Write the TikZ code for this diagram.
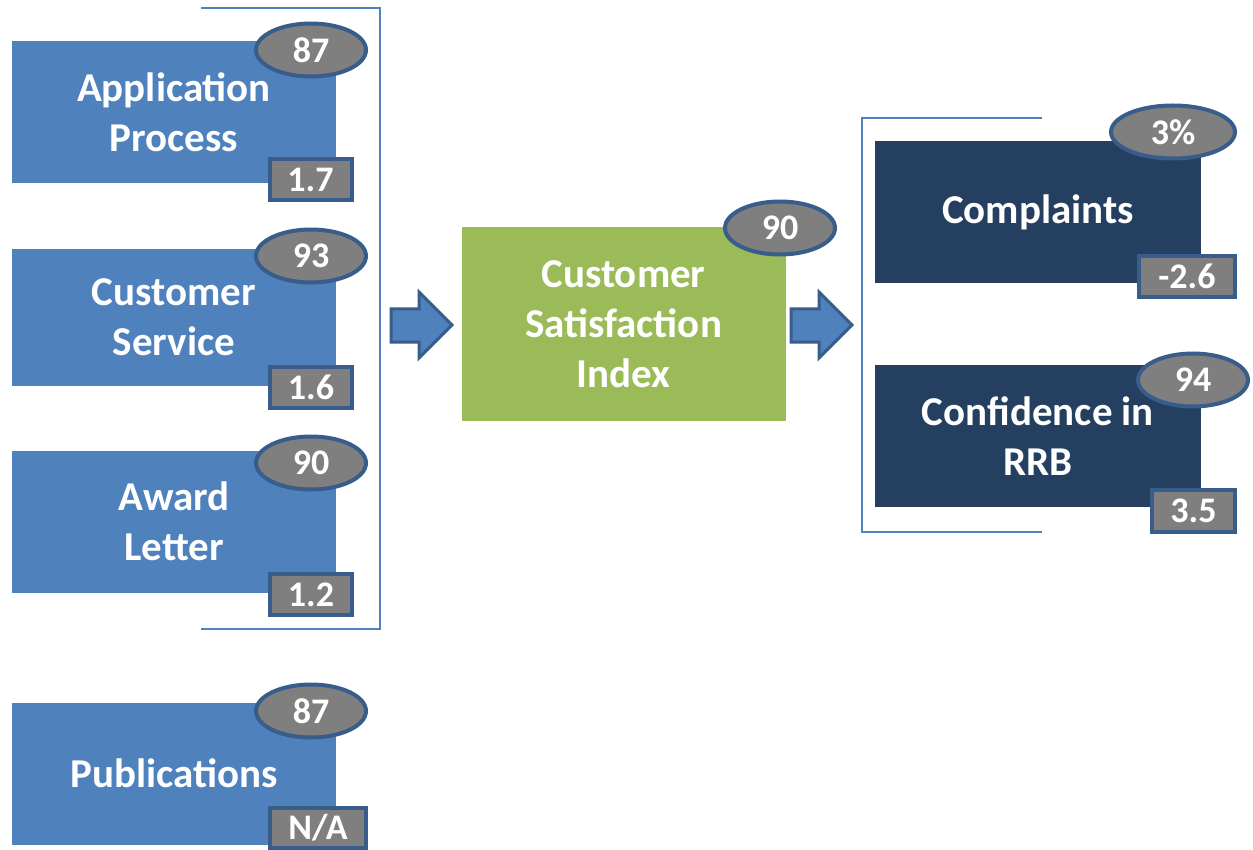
\documentclass[tikz,border=0pt]{standalone}
\usepackage{fontspec}
\setmainfont{Carlito}
\usetikzlibrary{shapes.geometric}
\definecolor{boxblue}{HTML}{4F81BD}
\definecolor{boxnavy}{HTML}{243F60}
\definecolor{boxgreen}{HTML}{9BBB59}
\definecolor{rimblue}{HTML}{385D8A}
\definecolor{chipgray}{HTML}{7F7F7F}
\tikzset{
  area/.style={rectangle,fill=boxblue,text=white,align=center,inner sep=0pt,
    minimum width=162pt,minimum height=71pt,font=\bfseries\fontsize{20.5}{25}\selectfont},
  score/.style={ellipse,fill=chipgray,draw=rimblue,line width=2pt,inner sep=0pt,
    minimum width=55pt,minimum height=26.5pt,text=white,font=\bfseries\fontsize{18}{20}\selectfont},
  delta/.style={rectangle,fill=chipgray,draw=rimblue,line width=2pt,inner sep=0pt,
    minimum width=41pt,minimum height=20.5pt,text=white,font=\bfseries\fontsize{18}{20}\selectfont},
  flow/.style={fill=boxblue,draw=rimblue,line width=1.5pt,line join=miter},
  brace/.style={draw=boxblue,line width=0.9pt}
}
\begin{document}
\begin{tikzpicture}[x=0.5pt,y=-0.5pt]
\useasboundingbox (0,0) rectangle (1253,850);
% brackets
  \coordinate (lt) at (201,8);
  \coordinate (ltr) at (380,8);
  \coordinate (lbr) at (380,629);
  \coordinate (lb) at (201,629);
  \coordinate (rt) at (1042,118);
  \coordinate (rtl) at (862,118);
  \coordinate (rbl) at (862,532);
  \coordinate (rb) at (1042,532);
  \draw [brace] (lt) -- (ltr) -- (lbr) -- (lb);
  \draw [brace] (rt) -- (rtl) -- (rbl) -- (rb);
% drivers
  \node (app) at (174,112) [area] {Application\\Process};
  \node (serv) at (174,317.5) [area,minimum height=68.5pt] {Customer\\Service};
  \node (award) at (174,521.5) [area] {Award\\Letter};
  \node (pub) at (174,773.5) [area] {Publications};
% index
  \node (csi) at (623.5,324) [area,fill=boxgreen,minimum height=97pt] {Customer\\Satisfaction\\Index};
% outcomes
  \node (comp) at (1038,212) [area,fill=boxnavy,minimum width=163pt] {Complaints};
  \node (conf) at (1038,436) [area,fill=boxnavy,minimum width=163pt] {Confidence in\\RRB};
% block arrows
  \draw [flow] (391,309) -- (419,309) -- (419,292) -- (452,325) -- (419,358) -- (419,342) -- (391,342) -- cycle;
  \draw [flow] (791,309) -- (819,309) -- (819,292) -- (852,325) -- (819,358) -- (819,342) -- (791,342) -- cycle;
% scores
  \node (appS) at (311,50) [score] {87};
  \node (servS) at (311,256) [score] {93};
  \node (awardS) at (311,463) [score] {90};
  \node (pubS) at (311,711) [score] {87};
  \node (csiS) at (780,228) [score] {90};
  \node (compS) at (1173,132) [score,minimum width=62pt] {3\%};
  \node (confS) at (1193,380) [score] {94};
% changes
  \node (appD) at (310.5,180) [delta] {1.7};
  \node (servD) at (311,387) [delta] {1.6};
  \node (awardD) at (311,594.5) [delta] {1.2};
  \node (pubD) at (318,828) [delta,minimum width=48pt,minimum height=20pt] {N/A};
  \node (compD) at (1187,276.5) [delta,minimum width=48pt] {-2.6};
  \node (confD) at (1193.5,511) [delta,minimum width=41.5pt,minimum height=21pt] {3.5};
\end{tikzpicture}
\end{document}
